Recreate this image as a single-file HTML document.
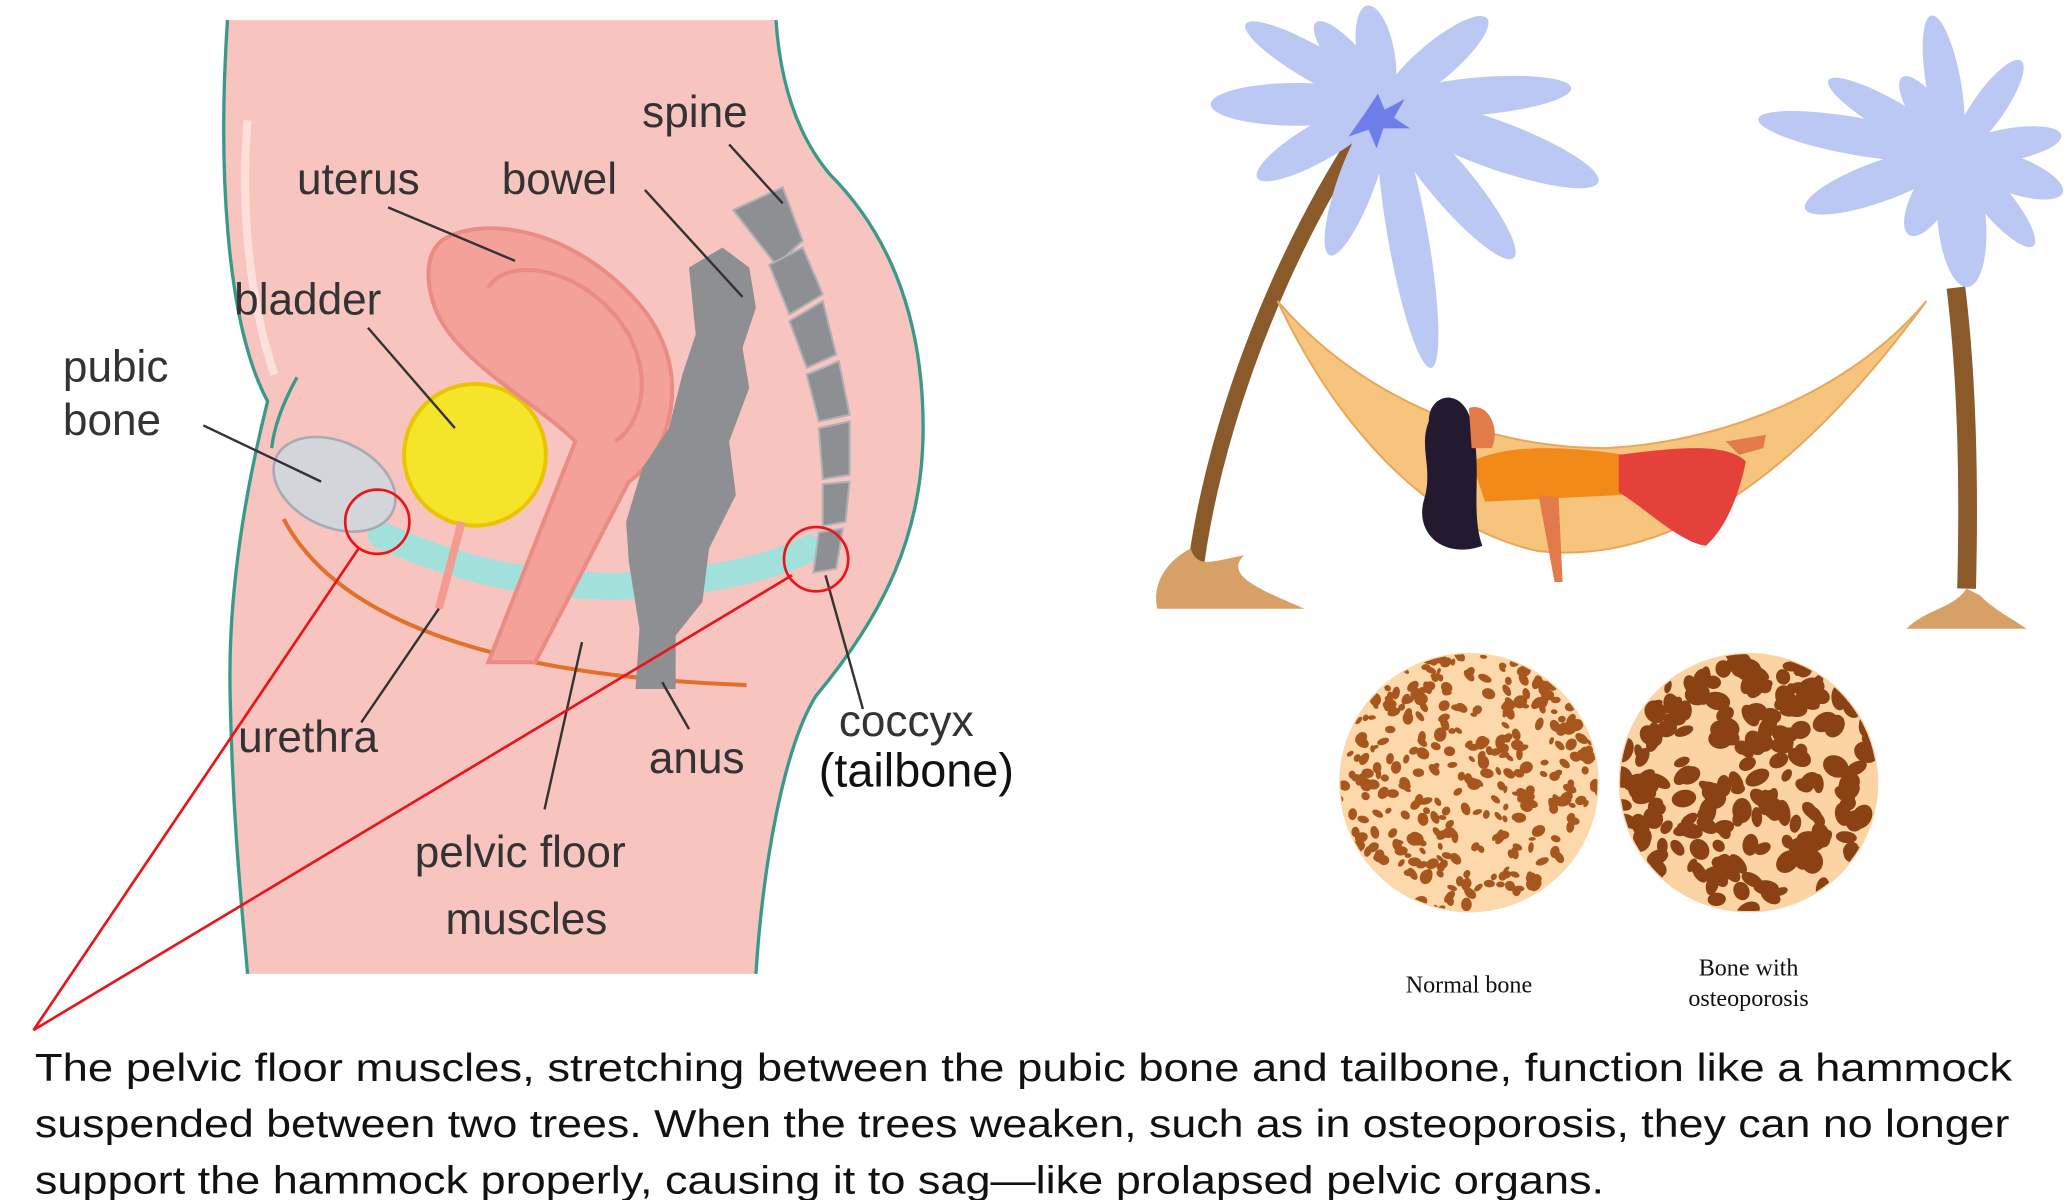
<!DOCTYPE html>
<html><head><meta charset="utf-8"><style>html,body{margin:0;padding:0;background:#fff}svg{display:block}</style></head>
<body>
<svg id="s" xmlns="http://www.w3.org/2000/svg" width="2071" height="1200" viewBox="0 0 1548 897">
<rect width="1548" height="897" fill="#fff"/>
<path d="M170,15 C163,120 168,240 200,300 C185,360 170,440 172,520 C174,620 182,690 185,728 L565,728 C570,650 585,560 610,520 C660,460 690,400 690,320 C690,230 660,170 620,130 C595,100 583,60 580,15 Z" fill="#f8c4bf"/>
<path d="M170,15 C163,120 168,240 200,300 C185,360 170,440 172,520 C174,620 182,690 185,728" fill="none" stroke="#3a9a8a" stroke-width="2.5"/>
<path d="M565,728 C570,650 585,560 610,520 C660,460 690,400 690,320 C690,230 660,170 620,130 C595,100 583,60 580,15" fill="none" stroke="#3a9a8a" stroke-width="2.5"/>
<path d="M222,282 C212,300 205,318 203,335" fill="none" stroke="#3a9a8a" stroke-width="2.5"/>
<path d="M185,90 C180,150 185,220 205,280" fill="none" stroke="#fde0dc" stroke-width="6"/>
<path d="M212,388 C250,460 360,505 558,512" fill="none" stroke="#e0702a" stroke-width="3"/>
<path d="M285,400 C340,425 400,440 470,438 C530,435 575,425 605,410" fill="none" stroke="#a2e0dc" stroke-width="20" stroke-linecap="round"/>
<ellipse cx="250" cy="362" rx="48" ry="32" transform="rotate(25 250 362)" fill="#d2d5da" stroke="#a8acb2" stroke-width="2"/>
<circle cx="355" cy="340" r="53" fill="#f4e52a" stroke="#e9c400" stroke-width="3"/>
<path d="M345,390 L328,455" stroke="#f29c92" stroke-width="6"/>
<path d="M330,180 C360,160 430,170 480,230 C520,280 500,340 470,360 L400,495 L365,495 L430,330 C400,300 340,270 325,230 C318,210 318,190 330,180 Z" fill="#f4a19a" stroke="#ea8b84" stroke-width="3"/>
<path d="M365,215 C380,190 440,200 470,250 C490,290 475,320 460,330" fill="none" stroke="#ea8b84" stroke-width="3"/>
<path d="M515,200 L540,185 L560,200 L565,230 L555,260 L560,290 L545,330 L550,370 L530,410 L525,450 L505,475 L505,515 L475,515 L478,470 L470,420 L468,390 L480,350 L500,320 L510,280 L520,250 Z" fill="#8e8f92"/>
<g fill="#8e8f92" stroke="#b0b1b4" stroke-width="1.5">
<path d="M548,157 L585,140 L600,180 L580,198 Z"/>
<path d="M575,198 L600,185 L615,220 L590,235 Z"/>
<path d="M590,240 L615,225 L625,265 L603,275 Z"/>
<path d="M603,280 L627,270 L635,310 L612,315 Z"/>
<path d="M612,320 L635,315 L635,355 L615,358 Z"/>
<path d="M615,362 L635,360 L632,390 L615,393 Z"/>
<path d="M612,398 L630,395 L625,425 L608,428 Z"/>
</g>
<g font-family="Liberation Sans, sans-serif" font-size="33" fill="#333">
<text x="480" y="95">spine</text>
<text x="222" y="145">uterus</text>
<text x="375" y="145">bowel</text>
<text x="175" y="235">bladder</text>
<text x="47" y="285">pubic</text>
<text x="47" y="325">bone</text>
<text x="178" y="562">urethra</text>
<text x="485" y="578">anus</text>
<text x="310" y="648">pelvic floor</text>
<text x="333" y="698">muscles</text>
<text x="627" y="550">coccyx</text>
<text x="612" y="588" fill="#111" font-size="35">(tailbone)</text>
</g>
<g stroke="#333" stroke-width="1.8">
<line x1="545" y1="108" x2="585" y2="152"/>
<line x1="290" y1="155" x2="385" y2="195"/>
<line x1="482" y1="142" x2="555" y2="222"/>
<line x1="275" y1="245" x2="340" y2="320"/>
<line x1="152" y1="318" x2="240" y2="360"/>
<line x1="270" y1="540" x2="328" y2="455"/>
<line x1="515" y1="545" x2="495" y2="510"/>
<line x1="407" y1="605" x2="435" y2="480"/>
<line x1="645" y1="530" x2="617" y2="430"/>
</g>
<g stroke="#e8161b" stroke-width="2" fill="none">
<circle cx="282" cy="390" r="24"/>
<circle cx="610" cy="418" r="24"/>
<line x1="25" y1="770" x2="268" y2="410"/>
<line x1="25" y1="770" x2="592" y2="430"/>
</g>
<path d="M893,430 C905,330 950,200 1022,92" fill="none" stroke="#8b5a2b" stroke-width="12"/>
<path d="M1470,440 C1472,360 1470,280 1462,215" fill="none" stroke="#8b5a2b" stroke-width="14"/>
<path d="M865,455 C860,430 880,415 890,410 C895,425 905,420 930,415 C915,430 940,440 975,455 Z" fill="#d7a066"/>
<path d="M1425,470 C1440,455 1460,455 1470,440 L1480,445 C1490,455 1500,460 1515,470 Z" fill="#d7a066"/>
<g fill="#bcc8f4" id="lv2"></g>
<path d="M1020,85 l10,-15 l5,12 l15,-8 l-8,14 l12,8 l-20,0 l-5,15 l-6,-14 l-15,5 z" fill="#6d7ee8"/>
<path d="M955,225 C985,290 1050,390 1150,412 C1270,425 1370,320 1440,225 C1390,285 1300,330 1200,335 C1100,335 1010,290 955,225 Z" fill="#f7c47e" stroke="#e5a85c" stroke-width="1.5"/>
<path d="M1100,345 C1130,330 1180,335 1215,340 L1212,370 L1110,375 Z" fill="#f28a1a"/>
<path d="M1210,340 C1250,335 1290,330 1305,345 C1300,370 1290,395 1275,408 C1255,405 1230,380 1210,368 Z" fill="#e4413a"/>
<path d="M1290,330 L1320,325 L1318,335 L1300,340 Z" fill="#e27a4a"/>
<path d="M1098,310 C1090,290 1068,295 1068,315 C1060,335 1072,350 1064,375 C1058,400 1080,418 1108,408 C1098,380 1110,345 1098,310 Z" fill="#241a30"/>
<path d="M1098,305 C1112,300 1122,320 1115,335 L1100,335 Z" fill="#e27a4a"/>
<path d="M1150,370 L1162,435 L1168,435 L1165,372 Z" fill="#e27a4a"/>
<circle cx="1098" cy="585" r="97" fill="#fcd8aa"/>
<circle cx="1307" cy="585" r="97" fill="#fcd4a4"/>
<clipPath id="c1"><circle cx="1098" cy="585" r="96"/></clipPath>
<clipPath id="c2"><circle cx="1307" cy="585" r="96"/></clipPath>
<g id="sp1" fill="#a7561d" clip-path="url(#c1)"></g>
<g id="sp2" fill="#8a4214" clip-path="url(#c2)"></g>
<g font-family="Liberation Serif, serif" font-size="18" fill="#111" text-anchor="middle">
<text x="1098" y="742">Normal bone</text>
<text x="1307" y="729">Bone with</text>
<text x="1307" y="752">osteoporosis</text>
</g>
<g font-family="Liberation Sans, sans-serif" font-size="29" fill="#111">
<text x="26" y="808" textLength="1478" lengthAdjust="spacingAndGlyphs">The pelvic floor muscles, stretching between the pubic bone and tailbone, function like a hammock</text>
<text x="26" y="850" textLength="1476" lengthAdjust="spacingAndGlyphs">suspended between two trees. When the trees weaken, such as in osteoporosis, they can no longer</text>
<text x="26" y="892" textLength="1173" lengthAdjust="spacingAndGlyphs">support the hammock properly, causing it to sag—like prolapsed pelvic organs.</text>
</g>
</svg>
<script>
var NS="http://www.w3.org/2000/svg";
function leaves(g,cx,cy,arr){arr.forEach(function(a){var e=document.createElementNS(NS,"ellipse");var ang=a[0]*Math.PI/180,l=a[1];var x=cx+Math.cos(ang)*l/2,y=cy+Math.sin(ang)*l/2;e.setAttribute("cx",x);e.setAttribute("cy",y);e.setAttribute("rx",l/2);e.setAttribute("ry",a[2]);e.setAttribute("transform","rotate("+a[0]+" "+x+" "+y+")");g.appendChild(e);});}
leaves(document.getElementById("lv2"),1035,78,[[-100,75,14],[-40,100,14],[-5,140,14],[20,170,18],[50,150,16],[80,200,15],[110,120,14],[150,110,14],[180,130,16],[-150,120,13],[-130,80,12]]);
leaves(document.getElementById("lv2"),1462,115,[[-100,105,13],[-55,85,12],[-10,80,12],[20,85,14],[50,90,12],[85,100,18],[120,70,14],[160,120,15],[190,150,14],[-150,110,12],[-125,70,12]]);
var seed=7;function r(){seed=(seed*16807)%2147483647;return seed/2147483647;}
function spots(g,cx,cy,R,n,minr,maxr){for(var i=0;i<n;i++){var a=r()*6.283,d=Math.sqrt(r())*(R);var e=document.createElementNS(NS,"ellipse");var rx=minr+r()*(maxr-minr);var x=cx+Math.cos(a)*d,y=cy+Math.sin(a)*d;e.setAttribute("cx",x);e.setAttribute("cy",y);e.setAttribute("rx",rx);e.setAttribute("ry",rx*(0.5+r()*0.4));e.setAttribute("transform","rotate("+(r()*180)+" "+x+" "+y+")");g.appendChild(e);}}
spots(document.getElementById("sp1"),1098,585,97,330,2.5,5.5);
spots(document.getElementById("sp2"),1307,585,97,190,5,10);
</script>
</body></html>
